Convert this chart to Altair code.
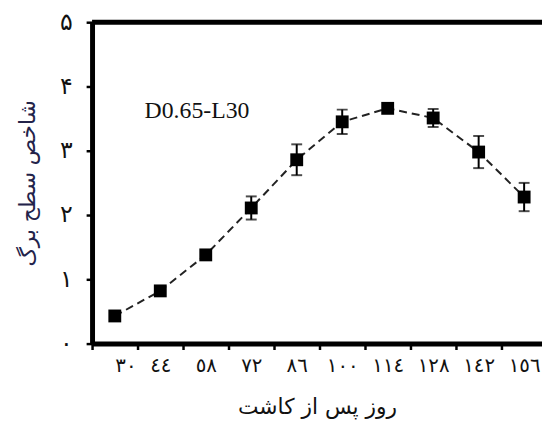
import altair as alt
import pandas as pd

days = [30, 44, 58, 72, 86, 100, 114, 128, 142, 156]
lai = [0.43, 0.82, 1.38, 2.11, 2.86, 3.45, 3.66, 3.51, 2.98, 2.28]
err = [0.03, 0.03, 0.04, 0.18, 0.24, 0.19, 0.05, 0.14, 0.25, 0.22]
x_tick_labels = ["٣٠", "٤٤", "٥٨", "٧٢", "٨٦", "١٠٠", "١١٤", "١٢٨", "١٤٢", "١٥٦"]
y_tick_labels = ["۰", "۱", "۲", "۳", "۴", "۵"]
boundaries = [d - 7 for d in days]

df = pd.DataFrame({"day": days, "lai": lai, "err": err})
df["lo"] = df["lai"] - df["err"]
df["hi"] = df["lai"] + df["err"]

W, H = 455, 325

xlab_arr = "[" + ",".join("'" + s + "'" for s in x_tick_labels) + "]"
ylab_arr = "[" + ",".join("'" + s + "'" for s in y_tick_labels) + "]"

xscale = alt.Scale(domain=[23, 161.5], nice=False, zero=False)
yscale = alt.Scale(domain=[0, 5], nice=False)

xaxis = alt.Axis(
    values=boundaries, title="روز پس از کاشت", grid=False,
    labelExpr=f"{xlab_arr}[round((datum.value-23)/14)]",
    labelOffset=23, labelFont="DejaVu Sans", labelFontSize=20, labelColor="#111111",
    labelPadding=6,
    tickSize=6, tickWidth=2.5, tickColor="black",
    domainWidth=5, domainColor="black",
    titleFont="DejaVu Sans", titleFontSize=22, titleFontWeight="normal",
    titleColor="#111111", titlePadding=22,
)
yaxis = alt.Axis(
    values=[0, 1, 2, 3, 4, 5], title="شاخص سطح برگ", grid=False,
    labelExpr=f"{ylab_arr}[round(datum.value)]",
    labelFont="DejaVu Sans", labelFontSize=24, labelColor="#111111", labelPadding=14,
    tickSize=6, tickWidth=2.5, tickColor="black",
    domainWidth=5, domainColor="black",
    titleFont="DejaVu Sans", titleFontSize=22, titleFontWeight="normal",
    titleColor="#23234a", titlePadding=20,
)

base = alt.Chart(df)

line = base.mark_line(color="#222222", strokeWidth=2, strokeDash=[8, 5]).encode(
    x=alt.X("day:Q", scale=xscale, axis=xaxis),
    y=alt.Y("lai:Q", scale=yscale, axis=yaxis),
)
rules = base.mark_rule(color="black", strokeWidth=2).encode(
    x="day:Q", y="lo:Q", y2="hi:Q"
)
cap_lo = base.mark_tick(color="black", thickness=2, size=11, orient="horizontal").encode(
    x="day:Q", y="lo:Q"
)
cap_hi = base.mark_tick(color="black", thickness=2, size=11, orient="horizontal").encode(
    x="day:Q", y="hi:Q"
)
points = base.mark_point(shape="square", filled=True, color="black", size=169, opacity=1).encode(
    x="day:Q", y="lai:Q"
)
top_border = alt.Chart(pd.DataFrame({"v": [5]})).mark_rule(color="black", strokeWidth=5).encode(
    y="v:Q", x=alt.value(0), x2=alt.value(W + 5)
)
label = alt.Chart(pd.DataFrame({"t": ["D0.65-L30"], "x": [55.3], "y": [3.615]})).mark_text(
    font="Liberation Serif", fontSize=24, color="#111111"
).encode(x="x:Q", y="y:Q", text="t:N")

chart = alt.layer(line, rules, cap_lo, cap_hi, points, top_border, label).properties(
    width=W, height=H,
    autosize=alt.AutoSizeParams(type="none"),
    padding={"left": 85, "top": 12, "right": 0, "bottom": 84},
).configure_view(stroke=None).configure(background="white")

chart.save("out.html", embed_options={"renderer": "svg", "actions": False})
